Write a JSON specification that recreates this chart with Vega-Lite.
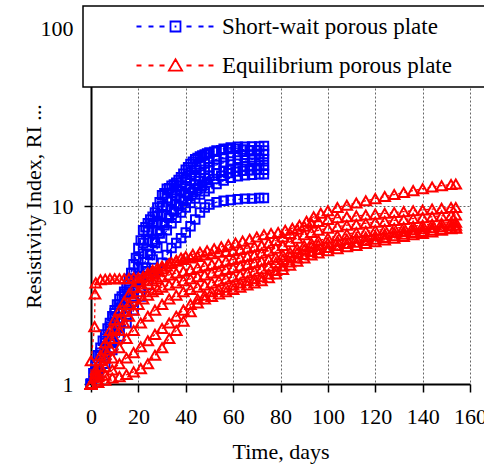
{
  "$schema": "https://vega.github.io/schema/vega-lite/v6.json",
  "width": 379,
  "height": 356,
  "autosize": "none",
  "padding": {"left": 91, "top": 28, "right": 14, "bottom": 91},
  "background": "white",
  "config": {"view": {"stroke": null}, "font": "Liberation Serif"},
  "data": {"values": [
    {"series":"Short-wait porous plate","curve":"B1","day":0,"ri":1},{"series":"Short-wait porous plate","curve":"B1","day":2,"ri":1.3},{"series":"Short-wait porous plate","curve":"B1","day":4,"ri":1.6},{"series":"Short-wait porous plate","curve":"B1","day":6,"ri":1.9},{"series":"Short-wait porous plate","curve":"B1","day":8,"ri":2.2},{"series":"Short-wait porous plate","curve":"B1","day":10,"ri":2.6},{"series":"Short-wait porous plate","curve":"B1","day":12,"ri":3.0},{"series":"Short-wait porous plate","curve":"B1","day":14,"ri":3.3},{"series":"Short-wait porous plate","curve":"B1","day":16,"ri":3.9},{"series":"Short-wait porous plate","curve":"B1","day":18,"ri":4.7},{"series":"Short-wait porous plate","curve":"B1","day":20,"ri":5.8},{"series":"Short-wait porous plate","curve":"B1","day":22,"ri":7.3},{"series":"Short-wait porous plate","curve":"B1","day":24,"ri":8.0},{"series":"Short-wait porous plate","curve":"B1","day":26,"ri":8.7},{"series":"Short-wait porous plate","curve":"B1","day":28,"ri":9.8},{"series":"Short-wait porous plate","curve":"B1","day":30,"ri":11.5},{"series":"Short-wait porous plate","curve":"B1","day":32,"ri":12.5},{"series":"Short-wait porous plate","curve":"B1","day":34,"ri":13},{"series":"Short-wait porous plate","curve":"B1","day":36,"ri":13.5},{"series":"Short-wait porous plate","curve":"B1","day":38,"ri":14.5},{"series":"Short-wait porous plate","curve":"B1","day":40,"ri":16},{"series":"Short-wait porous plate","curve":"B1","day":42,"ri":17.2},{"series":"Short-wait porous plate","curve":"B1","day":44,"ri":18.3},{"series":"Short-wait porous plate","curve":"B1","day":46,"ri":19},{"series":"Short-wait porous plate","curve":"B1","day":48,"ri":19.5},{"series":"Short-wait porous plate","curve":"B1","day":50,"ri":20},{"series":"Short-wait porous plate","curve":"B1","day":53,"ri":20.5},{"series":"Short-wait porous plate","curve":"B1","day":56,"ri":21},{"series":"Short-wait porous plate","curve":"B1","day":59,"ri":21.3},{"series":"Short-wait porous plate","curve":"B1","day":62,"ri":21.5},{"series":"Short-wait porous plate","curve":"B1","day":65,"ri":21.5},{"series":"Short-wait porous plate","curve":"B1","day":68,"ri":21.6},{"series":"Short-wait porous plate","curve":"B1","day":71,"ri":21.6},{"series":"Short-wait porous plate","curve":"B1","day":73,"ri":21.7},
    {"series":"Short-wait porous plate","curve":"B6","day":1,"ri":1.15},{"series":"Short-wait porous plate","curve":"B6","day":3,"ri":1.45},{"series":"Short-wait porous plate","curve":"B6","day":5,"ri":1.75},{"series":"Short-wait porous plate","curve":"B6","day":7,"ri":2.05},{"series":"Short-wait porous plate","curve":"B6","day":9,"ri":2.4},{"series":"Short-wait porous plate","curve":"B6","day":11,"ri":2.8},{"series":"Short-wait porous plate","curve":"B6","day":13,"ri":3.1},{"series":"Short-wait porous plate","curve":"B6","day":15,"ri":3.5},{"series":"Short-wait porous plate","curve":"B6","day":17,"ri":4.2},{"series":"Short-wait porous plate","curve":"B6","day":19,"ri":5.1},{"series":"Short-wait porous plate","curve":"B6","day":21,"ri":6.4},{"series":"Short-wait porous plate","curve":"B6","day":23,"ri":7.6},{"series":"Short-wait porous plate","curve":"B6","day":25,"ri":8.4},{"series":"Short-wait porous plate","curve":"B6","day":27,"ri":9.2},{"series":"Short-wait porous plate","curve":"B6","day":29,"ri":10.5},{"series":"Short-wait porous plate","curve":"B6","day":31,"ri":11.8},{"series":"Short-wait porous plate","curve":"B6","day":33,"ri":12.6},{"series":"Short-wait porous plate","curve":"B6","day":35,"ri":13.2},{"series":"Short-wait porous plate","curve":"B6","day":37,"ri":14},{"series":"Short-wait porous plate","curve":"B6","day":39,"ri":15.2},{"series":"Short-wait porous plate","curve":"B6","day":41,"ri":16.5},{"series":"Short-wait porous plate","curve":"B6","day":43,"ri":17.7},{"series":"Short-wait porous plate","curve":"B6","day":45,"ri":18.6},{"series":"Short-wait porous plate","curve":"B6","day":47,"ri":19.2},{"series":"Short-wait porous plate","curve":"B6","day":49,"ri":19.7},{"series":"Short-wait porous plate","curve":"B6","day":52,"ri":20.2},{"series":"Short-wait porous plate","curve":"B6","day":55,"ri":20.6},{"series":"Short-wait porous plate","curve":"B6","day":58,"ri":20.9},{"series":"Short-wait porous plate","curve":"B6","day":61,"ri":21},{"series":"Short-wait porous plate","curve":"B6","day":64,"ri":20.8},{"series":"Short-wait porous plate","curve":"B6","day":67,"ri":20.6},{"series":"Short-wait porous plate","curve":"B6","day":70,"ri":20.6},{"series":"Short-wait porous plate","curve":"B6","day":73,"ri":20.5},
    {"series":"Short-wait porous plate","curve":"B2","day":0,"ri":1},{"series":"Short-wait porous plate","curve":"B2","day":2,"ri":1.25},{"series":"Short-wait porous plate","curve":"B2","day":4,"ri":1.5},{"series":"Short-wait porous plate","curve":"B2","day":6,"ri":1.8},{"series":"Short-wait porous plate","curve":"B2","day":8,"ri":2.1},{"series":"Short-wait porous plate","curve":"B2","day":10,"ri":2.5},{"series":"Short-wait porous plate","curve":"B2","day":12,"ri":2.8},{"series":"Short-wait porous plate","curve":"B2","day":14,"ri":3.2},{"series":"Short-wait porous plate","curve":"B2","day":16,"ri":3.6},{"series":"Short-wait porous plate","curve":"B2","day":18,"ri":4.2},{"series":"Short-wait porous plate","curve":"B2","day":20,"ri":5.0},{"series":"Short-wait porous plate","curve":"B2","day":22,"ri":6.2},{"series":"Short-wait porous plate","curve":"B2","day":24,"ri":7.2},{"series":"Short-wait porous plate","curve":"B2","day":26,"ri":8.0},{"series":"Short-wait porous plate","curve":"B2","day":28,"ri":8.8},{"series":"Short-wait porous plate","curve":"B2","day":30,"ri":10},{"series":"Short-wait porous plate","curve":"B2","day":32,"ri":11},{"series":"Short-wait porous plate","curve":"B2","day":34,"ri":11.8},{"series":"Short-wait porous plate","curve":"B2","day":36,"ri":12.3},{"series":"Short-wait porous plate","curve":"B2","day":38,"ri":13},{"series":"Short-wait porous plate","curve":"B2","day":40,"ri":14},{"series":"Short-wait porous plate","curve":"B2","day":42,"ri":15},{"series":"Short-wait porous plate","curve":"B2","day":44,"ri":16},{"series":"Short-wait porous plate","curve":"B2","day":46,"ri":16.8},{"series":"Short-wait porous plate","curve":"B2","day":48,"ri":17.3},{"series":"Short-wait porous plate","curve":"B2","day":50,"ri":17.8},{"series":"Short-wait porous plate","curve":"B2","day":53,"ri":18.3},{"series":"Short-wait porous plate","curve":"B2","day":56,"ri":18.8},{"series":"Short-wait porous plate","curve":"B2","day":59,"ri":19.1},{"series":"Short-wait porous plate","curve":"B2","day":62,"ri":19.3},{"series":"Short-wait porous plate","curve":"B2","day":65,"ri":19.4},{"series":"Short-wait porous plate","curve":"B2","day":68,"ri":19.5},{"series":"Short-wait porous plate","curve":"B2","day":71,"ri":19.6},{"series":"Short-wait porous plate","curve":"B2","day":73,"ri":19.6},
    {"series":"Short-wait porous plate","curve":"B7","day":0,"ri":1},{"series":"Short-wait porous plate","curve":"B7","day":2,"ri":1.2},{"series":"Short-wait porous plate","curve":"B7","day":4,"ri":1.45},{"series":"Short-wait porous plate","curve":"B7","day":6,"ri":1.7},{"series":"Short-wait porous plate","curve":"B7","day":8,"ri":2.0},{"series":"Short-wait porous plate","curve":"B7","day":10,"ri":2.35},{"series":"Short-wait porous plate","curve":"B7","day":12,"ri":2.65},{"series":"Short-wait porous plate","curve":"B7","day":14,"ri":3.0},{"series":"Short-wait porous plate","curve":"B7","day":16,"ri":3.4},{"series":"Short-wait porous plate","curve":"B7","day":18,"ri":3.9},{"series":"Short-wait porous plate","curve":"B7","day":20,"ri":4.5},{"series":"Short-wait porous plate","curve":"B7","day":22,"ri":5.4},{"series":"Short-wait porous plate","curve":"B7","day":24,"ri":6.4},{"series":"Short-wait porous plate","curve":"B7","day":26,"ri":7.3},{"series":"Short-wait porous plate","curve":"B7","day":28,"ri":8.1},{"series":"Short-wait porous plate","curve":"B7","day":30,"ri":9.0},{"series":"Short-wait porous plate","curve":"B7","day":32,"ri":9.9},{"series":"Short-wait porous plate","curve":"B7","day":34,"ri":10.7},{"series":"Short-wait porous plate","curve":"B7","day":36,"ri":11.4},{"series":"Short-wait porous plate","curve":"B7","day":38,"ri":12.1},{"series":"Short-wait porous plate","curve":"B7","day":40,"ri":12.9},{"series":"Short-wait porous plate","curve":"B7","day":42,"ri":13.8},{"series":"Short-wait porous plate","curve":"B7","day":44,"ri":14.7},{"series":"Short-wait porous plate","curve":"B7","day":46,"ri":15.4},{"series":"Short-wait porous plate","curve":"B7","day":48,"ri":16},{"series":"Short-wait porous plate","curve":"B7","day":50,"ri":16.5},{"series":"Short-wait porous plate","curve":"B7","day":53,"ri":17},{"series":"Short-wait porous plate","curve":"B7","day":56,"ri":17.5},{"series":"Short-wait porous plate","curve":"B7","day":59,"ri":17.8},{"series":"Short-wait porous plate","curve":"B7","day":62,"ri":18},{"series":"Short-wait porous plate","curve":"B7","day":65,"ri":18.1},{"series":"Short-wait porous plate","curve":"B7","day":68,"ri":18.2},{"series":"Short-wait porous plate","curve":"B7","day":71,"ri":18.2},{"series":"Short-wait porous plate","curve":"B7","day":73,"ri":18.3},
    {"series":"Short-wait porous plate","curve":"B3","day":0,"ri":1},{"series":"Short-wait porous plate","curve":"B3","day":3,"ri":1.2},{"series":"Short-wait porous plate","curve":"B3","day":6,"ri":1.5},{"series":"Short-wait porous plate","curve":"B3","day":9,"ri":1.8},{"series":"Short-wait porous plate","curve":"B3","day":12,"ri":2.2},{"series":"Short-wait porous plate","curve":"B3","day":15,"ri":2.7},{"series":"Short-wait porous plate","curve":"B3","day":18,"ri":3.3},{"series":"Short-wait porous plate","curve":"B3","day":20,"ri":3.8},{"series":"Short-wait porous plate","curve":"B3","day":22,"ri":4.5},{"series":"Short-wait porous plate","curve":"B3","day":24,"ri":5.4},{"series":"Short-wait porous plate","curve":"B3","day":26,"ri":6.3},{"series":"Short-wait porous plate","curve":"B3","day":28,"ri":7.2},{"series":"Short-wait porous plate","curve":"B3","day":30,"ri":8.0},{"series":"Short-wait porous plate","curve":"B3","day":32,"ri":8.8},{"series":"Short-wait porous plate","curve":"B3","day":34,"ri":9.5},{"series":"Short-wait porous plate","curve":"B3","day":36,"ri":10.2},{"series":"Short-wait porous plate","curve":"B3","day":38,"ri":11},{"series":"Short-wait porous plate","curve":"B3","day":40,"ri":11.8},{"series":"Short-wait porous plate","curve":"B3","day":42,"ri":12.5},{"series":"Short-wait porous plate","curve":"B3","day":44,"ri":13.2},{"series":"Short-wait porous plate","curve":"B3","day":46,"ri":13.8},{"series":"Short-wait porous plate","curve":"B3","day":48,"ri":14.3},{"series":"Short-wait porous plate","curve":"B3","day":50,"ri":14.8},{"series":"Short-wait porous plate","curve":"B3","day":53,"ri":15.3},{"series":"Short-wait porous plate","curve":"B3","day":56,"ri":15.8},{"series":"Short-wait porous plate","curve":"B3","day":59,"ri":16.2},{"series":"Short-wait porous plate","curve":"B3","day":62,"ri":16.5},{"series":"Short-wait porous plate","curve":"B3","day":65,"ri":16.7},{"series":"Short-wait porous plate","curve":"B3","day":68,"ri":16.8},{"series":"Short-wait porous plate","curve":"B3","day":71,"ri":16.9},{"series":"Short-wait porous plate","curve":"B3","day":73,"ri":17},
    {"series":"Short-wait porous plate","curve":"B8","day":0,"ri":1},{"series":"Short-wait porous plate","curve":"B8","day":3,"ri":1.2},{"series":"Short-wait porous plate","curve":"B8","day":6,"ri":1.45},{"series":"Short-wait porous plate","curve":"B8","day":9,"ri":1.75},{"series":"Short-wait porous plate","curve":"B8","day":12,"ri":2.1},{"series":"Short-wait porous plate","curve":"B8","day":15,"ri":2.55},{"series":"Short-wait porous plate","curve":"B8","day":18,"ri":3.1},{"series":"Short-wait porous plate","curve":"B8","day":21,"ri":3.8},{"series":"Short-wait porous plate","curve":"B8","day":23,"ri":4.5},{"series":"Short-wait porous plate","curve":"B8","day":25,"ri":5.3},{"series":"Short-wait porous plate","curve":"B8","day":27,"ri":6.2},{"series":"Short-wait porous plate","curve":"B8","day":29,"ri":7.0},{"series":"Short-wait porous plate","curve":"B8","day":31,"ri":7.8},{"series":"Short-wait porous plate","curve":"B8","day":33,"ri":8.6},{"series":"Short-wait porous plate","curve":"B8","day":35,"ri":9.3},{"series":"Short-wait porous plate","curve":"B8","day":37,"ri":10},{"series":"Short-wait porous plate","curve":"B8","day":39,"ri":10.7},{"series":"Short-wait porous plate","curve":"B8","day":41,"ri":11.4},{"series":"Short-wait porous plate","curve":"B8","day":43,"ri":12},{"series":"Short-wait porous plate","curve":"B8","day":45,"ri":12.6},{"series":"Short-wait porous plate","curve":"B8","day":47,"ri":13.1},{"series":"Short-wait porous plate","curve":"B8","day":49,"ri":13.6},{"series":"Short-wait porous plate","curve":"B8","day":52,"ri":14.2},{"series":"Short-wait porous plate","curve":"B8","day":55,"ri":14.8},{"series":"Short-wait porous plate","curve":"B8","day":58,"ri":15.3},{"series":"Short-wait porous plate","curve":"B8","day":61,"ri":15.6},{"series":"Short-wait porous plate","curve":"B8","day":64,"ri":15.8},{"series":"Short-wait porous plate","curve":"B8","day":67,"ri":15.9},{"series":"Short-wait porous plate","curve":"B8","day":70,"ri":16},{"series":"Short-wait porous plate","curve":"B8","day":73,"ri":16},
    {"series":"Short-wait porous plate","curve":"B4","day":0,"ri":1},{"series":"Short-wait porous plate","curve":"B4","day":3,"ri":1.15},{"series":"Short-wait porous plate","curve":"B4","day":6,"ri":1.4},{"series":"Short-wait porous plate","curve":"B4","day":9,"ri":1.7},{"series":"Short-wait porous plate","curve":"B4","day":12,"ri":2.0},{"series":"Short-wait porous plate","curve":"B4","day":15,"ri":2.4},{"series":"Short-wait porous plate","curve":"B4","day":18,"ri":2.9},{"series":"Short-wait porous plate","curve":"B4","day":21,"ri":3.5},{"series":"Short-wait porous plate","curve":"B4","day":24,"ri":4.3},{"series":"Short-wait porous plate","curve":"B4","day":26,"ri":5.0},{"series":"Short-wait porous plate","curve":"B4","day":28,"ri":5.8},{"series":"Short-wait porous plate","curve":"B4","day":30,"ri":6.6},{"series":"Short-wait porous plate","curve":"B4","day":32,"ri":7.3},{"series":"Short-wait porous plate","curve":"B4","day":34,"ri":8.0},{"series":"Short-wait porous plate","curve":"B4","day":36,"ri":8.6},{"series":"Short-wait porous plate","curve":"B4","day":38,"ri":9.2},{"series":"Short-wait porous plate","curve":"B4","day":40,"ri":9.8},{"series":"Short-wait porous plate","curve":"B4","day":42,"ri":10.4},{"series":"Short-wait porous plate","curve":"B4","day":44,"ri":11},{"series":"Short-wait porous plate","curve":"B4","day":46,"ri":11.6},{"series":"Short-wait porous plate","curve":"B4","day":48,"ri":12.1},{"series":"Short-wait porous plate","curve":"B4","day":50,"ri":12.6},{"series":"Short-wait porous plate","curve":"B4","day":53,"ri":13.3},{"series":"Short-wait porous plate","curve":"B4","day":56,"ri":13.9},{"series":"Short-wait porous plate","curve":"B4","day":59,"ri":14.4},{"series":"Short-wait porous plate","curve":"B4","day":62,"ri":14.7},{"series":"Short-wait porous plate","curve":"B4","day":65,"ri":14.9},{"series":"Short-wait porous plate","curve":"B4","day":68,"ri":15},{"series":"Short-wait porous plate","curve":"B4","day":71,"ri":15.1},{"series":"Short-wait porous plate","curve":"B4","day":73,"ri":15.1},
    {"series":"Short-wait porous plate","curve":"B5","day":0,"ri":1},{"series":"Short-wait porous plate","curve":"B5","day":3,"ri":1.1},{"series":"Short-wait porous plate","curve":"B5","day":6,"ri":1.3},{"series":"Short-wait porous plate","curve":"B5","day":9,"ri":1.55},{"series":"Short-wait porous plate","curve":"B5","day":12,"ri":1.85},{"series":"Short-wait porous plate","curve":"B5","day":15,"ri":2.2},{"series":"Short-wait porous plate","curve":"B5","day":18,"ri":2.6},{"series":"Short-wait porous plate","curve":"B5","day":21,"ri":3.1},{"series":"Short-wait porous plate","curve":"B5","day":24,"ri":3.6},{"series":"Short-wait porous plate","curve":"B5","day":27,"ri":4.2},{"series":"Short-wait porous plate","curve":"B5","day":30,"ri":4.8},{"series":"Short-wait porous plate","curve":"B5","day":32,"ri":5.3},{"series":"Short-wait porous plate","curve":"B5","day":34,"ri":5.8},{"series":"Short-wait porous plate","curve":"B5","day":36,"ri":6.2},{"series":"Short-wait porous plate","curve":"B5","day":38,"ri":6.6},{"series":"Short-wait porous plate","curve":"B5","day":40,"ri":7.1},{"series":"Short-wait porous plate","curve":"B5","day":42,"ri":7.7},{"series":"Short-wait porous plate","curve":"B5","day":44,"ri":8.4},{"series":"Short-wait porous plate","curve":"B5","day":46,"ri":9.2},{"series":"Short-wait porous plate","curve":"B5","day":48,"ri":9.8},{"series":"Short-wait porous plate","curve":"B5","day":50,"ri":10.2},{"series":"Short-wait porous plate","curve":"B5","day":53,"ri":10.5},{"series":"Short-wait porous plate","curve":"B5","day":56,"ri":10.7},{"series":"Short-wait porous plate","curve":"B5","day":59,"ri":10.8},{"series":"Short-wait porous plate","curve":"B5","day":62,"ri":10.9},{"series":"Short-wait porous plate","curve":"B5","day":65,"ri":11},{"series":"Short-wait porous plate","curve":"B5","day":68,"ri":11},{"series":"Short-wait porous plate","curve":"B5","day":71,"ri":11.1},{"series":"Short-wait porous plate","curve":"B5","day":73,"ri":11.1},
    {"series":"Equilibrium porous plate","curve":"R1","day":0,"ri":1},{"series":"Equilibrium porous plate","curve":"R1","day":0,"ri":1.35},{"series":"Equilibrium porous plate","curve":"R1","day":1.5,"ri":2.1},{"series":"Equilibrium porous plate","curve":"R1","day":1.7,"ri":3.2},{"series":"Equilibrium porous plate","curve":"R1","day":2,"ri":3.7},{"series":"Equilibrium porous plate","curve":"R1","day":4,"ri":3.85},{"series":"Equilibrium porous plate","curve":"R1","day":6,"ri":3.88},{"series":"Equilibrium porous plate","curve":"R1","day":8,"ri":3.9},{"series":"Equilibrium porous plate","curve":"R1","day":10,"ri":3.9},{"series":"Equilibrium porous plate","curve":"R1","day":12,"ri":3.9},{"series":"Equilibrium porous plate","curve":"R1","day":14,"ri":3.9},{"series":"Equilibrium porous plate","curve":"R1","day":16,"ri":3.92},{"series":"Equilibrium porous plate","curve":"R1","day":18,"ri":3.95},{"series":"Equilibrium porous plate","curve":"R1","day":20,"ri":3.95},{"series":"Equilibrium porous plate","curve":"R1","day":22,"ri":4.0},{"series":"Equilibrium porous plate","curve":"R1","day":24,"ri":4.05},{"series":"Equilibrium porous plate","curve":"R1","day":26,"ri":4.15},{"series":"Equilibrium porous plate","curve":"R1","day":28,"ri":4.3},{"series":"Equilibrium porous plate","curve":"R1","day":30,"ri":4.45},{"series":"Equilibrium porous plate","curve":"R1","day":32,"ri":4.6},{"series":"Equilibrium porous plate","curve":"R1","day":34,"ri":4.8},{"series":"Equilibrium porous plate","curve":"R1","day":36,"ri":4.95},{"series":"Equilibrium porous plate","curve":"R1","day":38,"ri":5.1},{"series":"Equilibrium porous plate","curve":"R1","day":40,"ri":5.2},{"series":"Equilibrium porous plate","curve":"R1","day":43,"ri":5.35},{"series":"Equilibrium porous plate","curve":"R1","day":46,"ri":5.5},{"series":"Equilibrium porous plate","curve":"R1","day":49,"ri":5.6},{"series":"Equilibrium porous plate","curve":"R1","day":52,"ri":5.75},{"series":"Equilibrium porous plate","curve":"R1","day":55,"ri":5.9},{"series":"Equilibrium porous plate","curve":"R1","day":58,"ri":6.05},{"series":"Equilibrium porous plate","curve":"R1","day":61,"ri":6.2},{"series":"Equilibrium porous plate","curve":"R1","day":64,"ri":6.35},{"series":"Equilibrium porous plate","curve":"R1","day":67,"ri":6.5},{"series":"Equilibrium porous plate","curve":"R1","day":70,"ri":6.7},{"series":"Equilibrium porous plate","curve":"R1","day":73,"ri":6.9},{"series":"Equilibrium porous plate","curve":"R1","day":76,"ri":7.0},{"series":"Equilibrium porous plate","curve":"R1","day":79,"ri":7.1},{"series":"Equilibrium porous plate","curve":"R1","day":82,"ri":7.3},{"series":"Equilibrium porous plate","curve":"R1","day":85,"ri":7.5},{"series":"Equilibrium porous plate","curve":"R1","day":88,"ri":7.8},{"series":"Equilibrium porous plate","curve":"R1","day":91,"ri":8.2},{"series":"Equilibrium porous plate","curve":"R1","day":94,"ri":8.7},{"series":"Equilibrium porous plate","curve":"R1","day":97,"ri":9.1},{"series":"Equilibrium porous plate","curve":"R1","day":100,"ri":9.4},{"series":"Equilibrium porous plate","curve":"R1","day":104,"ri":9.8},{"series":"Equilibrium porous plate","curve":"R1","day":108,"ri":10.1},{"series":"Equilibrium porous plate","curve":"R1","day":112,"ri":10.4},{"series":"Equilibrium porous plate","curve":"R1","day":116,"ri":10.7},{"series":"Equilibrium porous plate","curve":"R1","day":120,"ri":11.0},{"series":"Equilibrium porous plate","curve":"R1","day":124,"ri":11.3},{"series":"Equilibrium porous plate","curve":"R1","day":128,"ri":11.6},{"series":"Equilibrium porous plate","curve":"R1","day":132,"ri":11.9},{"series":"Equilibrium porous plate","curve":"R1","day":136,"ri":12.2},{"series":"Equilibrium porous plate","curve":"R1","day":140,"ri":12.5},{"series":"Equilibrium porous plate","curve":"R1","day":144,"ri":12.8},{"series":"Equilibrium porous plate","curve":"R1","day":148,"ri":13.0},{"series":"Equilibrium porous plate","curve":"R1","day":152,"ri":13.2},{"series":"Equilibrium porous plate","curve":"R1","day":154,"ri":13.3},
    {"series":"Equilibrium porous plate","curve":"R2","day":0,"ri":1},{"series":"Equilibrium porous plate","curve":"R2","day":2,"ri":1.2},{"series":"Equilibrium porous plate","curve":"R2","day":4,"ri":1.45},{"series":"Equilibrium porous plate","curve":"R2","day":6,"ri":1.7},{"series":"Equilibrium porous plate","curve":"R2","day":8,"ri":2.0},{"series":"Equilibrium porous plate","curve":"R2","day":10,"ri":2.3},{"series":"Equilibrium porous plate","curve":"R2","day":12,"ri":2.6},{"series":"Equilibrium porous plate","curve":"R2","day":14,"ri":2.9},{"series":"Equilibrium porous plate","curve":"R2","day":16,"ri":3.2},{"series":"Equilibrium porous plate","curve":"R2","day":18,"ri":3.5},{"series":"Equilibrium porous plate","curve":"R2","day":20,"ri":3.75},{"series":"Equilibrium porous plate","curve":"R2","day":22,"ri":4.0},{"series":"Equilibrium porous plate","curve":"R2","day":24,"ri":4.2},{"series":"Equilibrium porous plate","curve":"R2","day":26,"ri":4.35},{"series":"Equilibrium porous plate","curve":"R2","day":28,"ri":4.5},{"series":"Equilibrium porous plate","curve":"R2","day":30,"ri":4.6},{"series":"Equilibrium porous plate","curve":"R2","day":33,"ri":4.75},{"series":"Equilibrium porous plate","curve":"R2","day":36,"ri":4.9},{"series":"Equilibrium porous plate","curve":"R2","day":39,"ri":5.0},{"series":"Equilibrium porous plate","curve":"R2","day":42,"ri":5.1},{"series":"Equilibrium porous plate","curve":"R2","day":45,"ri":5.2},{"series":"Equilibrium porous plate","curve":"R2","day":48,"ri":5.3},{"series":"Equilibrium porous plate","curve":"R2","day":51,"ri":5.4},{"series":"Equilibrium porous plate","curve":"R2","day":54,"ri":5.5},{"series":"Equilibrium porous plate","curve":"R2","day":57,"ri":5.55},{"series":"Equilibrium porous plate","curve":"R2","day":60,"ri":5.6},{"series":"Equilibrium porous plate","curve":"R2","day":63,"ri":5.7},{"series":"Equilibrium porous plate","curve":"R2","day":66,"ri":5.8},{"series":"Equilibrium porous plate","curve":"R2","day":69,"ri":5.9},{"series":"Equilibrium porous plate","curve":"R2","day":72,"ri":6.0},{"series":"Equilibrium porous plate","curve":"R2","day":75,"ri":6.2},{"series":"Equilibrium porous plate","curve":"R2","day":78,"ri":6.4},{"series":"Equilibrium porous plate","curve":"R2","day":81,"ri":6.7},{"series":"Equilibrium porous plate","curve":"R2","day":84,"ri":7.0},{"series":"Equilibrium porous plate","curve":"R2","day":87,"ri":7.4},{"series":"Equilibrium porous plate","curve":"R2","day":90,"ri":7.7},{"series":"Equilibrium porous plate","curve":"R2","day":93,"ri":8.0},{"series":"Equilibrium porous plate","curve":"R2","day":96,"ri":8.2},{"series":"Equilibrium porous plate","curve":"R2","day":100,"ri":8.4},{"series":"Equilibrium porous plate","curve":"R2","day":104,"ri":8.6},{"series":"Equilibrium porous plate","curve":"R2","day":108,"ri":8.7},{"series":"Equilibrium porous plate","curve":"R2","day":112,"ri":8.8},{"series":"Equilibrium porous plate","curve":"R2","day":116,"ri":8.9},{"series":"Equilibrium porous plate","curve":"R2","day":120,"ri":9.0},{"series":"Equilibrium porous plate","curve":"R2","day":124,"ri":9.1},{"series":"Equilibrium porous plate","curve":"R2","day":128,"ri":9.2},{"series":"Equilibrium porous plate","curve":"R2","day":132,"ri":9.3},{"series":"Equilibrium porous plate","curve":"R2","day":136,"ri":9.4},{"series":"Equilibrium porous plate","curve":"R2","day":140,"ri":9.5},{"series":"Equilibrium porous plate","curve":"R2","day":144,"ri":9.6},{"series":"Equilibrium porous plate","curve":"R2","day":148,"ri":9.7},{"series":"Equilibrium porous plate","curve":"R2","day":152,"ri":9.8},{"series":"Equilibrium porous plate","curve":"R2","day":154,"ri":9.8},
    {"series":"Equilibrium porous plate","curve":"R3","day":0,"ri":1},{"series":"Equilibrium porous plate","curve":"R3","day":2,"ri":1.15},{"series":"Equilibrium porous plate","curve":"R3","day":4,"ri":1.35},{"series":"Equilibrium porous plate","curve":"R3","day":6,"ri":1.55},{"series":"Equilibrium porous plate","curve":"R3","day":8,"ri":1.8},{"series":"Equilibrium porous plate","curve":"R3","day":10,"ri":2.05},{"series":"Equilibrium porous plate","curve":"R3","day":12,"ri":2.3},{"series":"Equilibrium porous plate","curve":"R3","day":14,"ri":2.55},{"series":"Equilibrium porous plate","curve":"R3","day":16,"ri":2.8},{"series":"Equilibrium porous plate","curve":"R3","day":18,"ri":3.05},{"series":"Equilibrium porous plate","curve":"R3","day":20,"ri":3.3},{"series":"Equilibrium porous plate","curve":"R3","day":22,"ri":3.5},{"series":"Equilibrium porous plate","curve":"R3","day":24,"ri":3.65},{"series":"Equilibrium porous plate","curve":"R3","day":26,"ri":3.8},{"series":"Equilibrium porous plate","curve":"R3","day":28,"ri":3.9},{"series":"Equilibrium porous plate","curve":"R3","day":30,"ri":4.0},{"series":"Equilibrium porous plate","curve":"R3","day":33,"ri":4.1},{"series":"Equilibrium porous plate","curve":"R3","day":36,"ri":4.2},{"series":"Equilibrium porous plate","curve":"R3","day":39,"ri":4.3},{"series":"Equilibrium porous plate","curve":"R3","day":42,"ri":4.4},{"series":"Equilibrium porous plate","curve":"R3","day":45,"ri":4.5},{"series":"Equilibrium porous plate","curve":"R3","day":48,"ri":4.6},{"series":"Equilibrium porous plate","curve":"R3","day":51,"ri":4.7},{"series":"Equilibrium porous plate","curve":"R3","day":54,"ri":4.8},{"series":"Equilibrium porous plate","curve":"R3","day":57,"ri":4.9},{"series":"Equilibrium porous plate","curve":"R3","day":60,"ri":5.0},{"series":"Equilibrium porous plate","curve":"R3","day":63,"ri":5.1},{"series":"Equilibrium porous plate","curve":"R3","day":66,"ri":5.2},{"series":"Equilibrium porous plate","curve":"R3","day":69,"ri":5.3},{"series":"Equilibrium porous plate","curve":"R3","day":72,"ri":5.45},{"series":"Equilibrium porous plate","curve":"R3","day":75,"ri":5.6},{"series":"Equilibrium porous plate","curve":"R3","day":78,"ri":5.8},{"series":"Equilibrium porous plate","curve":"R3","day":81,"ri":6.0},{"series":"Equilibrium porous plate","curve":"R3","day":84,"ri":6.3},{"series":"Equilibrium porous plate","curve":"R3","day":87,"ri":6.6},{"series":"Equilibrium porous plate","curve":"R3","day":90,"ri":6.9},{"series":"Equilibrium porous plate","curve":"R3","day":93,"ri":7.1},{"series":"Equilibrium porous plate","curve":"R3","day":96,"ri":7.3},{"series":"Equilibrium porous plate","curve":"R3","day":100,"ri":7.5},{"series":"Equilibrium porous plate","curve":"R3","day":104,"ri":7.65},{"series":"Equilibrium porous plate","curve":"R3","day":108,"ri":7.8},{"series":"Equilibrium porous plate","curve":"R3","day":112,"ri":7.9},{"series":"Equilibrium porous plate","curve":"R3","day":116,"ri":8.0},{"series":"Equilibrium porous plate","curve":"R3","day":120,"ri":8.1},{"series":"Equilibrium porous plate","curve":"R3","day":124,"ri":8.2},{"series":"Equilibrium porous plate","curve":"R3","day":128,"ri":8.3},{"series":"Equilibrium porous plate","curve":"R3","day":132,"ri":8.4},{"series":"Equilibrium porous plate","curve":"R3","day":136,"ri":8.5},{"series":"Equilibrium porous plate","curve":"R3","day":140,"ri":8.6},{"series":"Equilibrium porous plate","curve":"R3","day":144,"ri":8.7},{"series":"Equilibrium porous plate","curve":"R3","day":148,"ri":8.8},{"series":"Equilibrium porous plate","curve":"R3","day":152,"ri":8.85},{"series":"Equilibrium porous plate","curve":"R3","day":154,"ri":8.9},
    {"series":"Equilibrium porous plate","curve":"R4","day":0,"ri":1},{"series":"Equilibrium porous plate","curve":"R4","day":2,"ri":1.1},{"series":"Equilibrium porous plate","curve":"R4","day":4,"ri":1.25},{"series":"Equilibrium porous plate","curve":"R4","day":6,"ri":1.4},{"series":"Equilibrium porous plate","curve":"R4","day":8,"ri":1.6},{"series":"Equilibrium porous plate","curve":"R4","day":10,"ri":1.8},{"series":"Equilibrium porous plate","curve":"R4","day":12,"ri":2.0},{"series":"Equilibrium porous plate","curve":"R4","day":14,"ri":2.2},{"series":"Equilibrium porous plate","curve":"R4","day":16,"ri":2.4},{"series":"Equilibrium porous plate","curve":"R4","day":18,"ri":2.6},{"series":"Equilibrium porous plate","curve":"R4","day":20,"ri":2.8},{"series":"Equilibrium porous plate","curve":"R4","day":22,"ri":3.0},{"series":"Equilibrium porous plate","curve":"R4","day":24,"ri":3.15},{"series":"Equilibrium porous plate","curve":"R4","day":26,"ri":3.3},{"series":"Equilibrium porous plate","curve":"R4","day":28,"ri":3.4},{"series":"Equilibrium porous plate","curve":"R4","day":30,"ri":3.5},{"series":"Equilibrium porous plate","curve":"R4","day":33,"ri":3.6},{"series":"Equilibrium porous plate","curve":"R4","day":36,"ri":3.7},{"series":"Equilibrium porous plate","curve":"R4","day":39,"ri":3.8},{"series":"Equilibrium porous plate","curve":"R4","day":42,"ri":3.9},{"series":"Equilibrium porous plate","curve":"R4","day":45,"ri":4.0},{"series":"Equilibrium porous plate","curve":"R4","day":48,"ri":4.1},{"series":"Equilibrium porous plate","curve":"R4","day":51,"ri":4.2},{"series":"Equilibrium porous plate","curve":"R4","day":54,"ri":4.3},{"series":"Equilibrium porous plate","curve":"R4","day":57,"ri":4.4},{"series":"Equilibrium porous plate","curve":"R4","day":60,"ri":4.5},{"series":"Equilibrium porous plate","curve":"R4","day":63,"ri":4.6},{"series":"Equilibrium porous plate","curve":"R4","day":66,"ri":4.7},{"series":"Equilibrium porous plate","curve":"R4","day":69,"ri":4.8},{"series":"Equilibrium porous plate","curve":"R4","day":72,"ri":4.9},{"series":"Equilibrium porous plate","curve":"R4","day":75,"ri":5.0},{"series":"Equilibrium porous plate","curve":"R4","day":78,"ri":5.15},{"series":"Equilibrium porous plate","curve":"R4","day":81,"ri":5.3},{"series":"Equilibrium porous plate","curve":"R4","day":84,"ri":5.5},{"series":"Equilibrium porous plate","curve":"R4","day":87,"ri":5.75},{"series":"Equilibrium porous plate","curve":"R4","day":90,"ri":6.0},{"series":"Equilibrium porous plate","curve":"R4","day":93,"ri":6.2},{"series":"Equilibrium porous plate","curve":"R4","day":96,"ri":6.4},{"series":"Equilibrium porous plate","curve":"R4","day":100,"ri":6.6},{"series":"Equilibrium porous plate","curve":"R4","day":104,"ri":6.8},{"series":"Equilibrium porous plate","curve":"R4","day":108,"ri":6.95},{"series":"Equilibrium porous plate","curve":"R4","day":112,"ri":7.1},{"series":"Equilibrium porous plate","curve":"R4","day":116,"ri":7.2},{"series":"Equilibrium porous plate","curve":"R4","day":120,"ri":7.3},{"series":"Equilibrium porous plate","curve":"R4","day":124,"ri":7.4},{"series":"Equilibrium porous plate","curve":"R4","day":128,"ri":7.5},{"series":"Equilibrium porous plate","curve":"R4","day":132,"ri":7.6},{"series":"Equilibrium porous plate","curve":"R4","day":136,"ri":7.7},{"series":"Equilibrium porous plate","curve":"R4","day":140,"ri":7.8},{"series":"Equilibrium porous plate","curve":"R4","day":144,"ri":7.9},{"series":"Equilibrium porous plate","curve":"R4","day":148,"ri":8.0},{"series":"Equilibrium porous plate","curve":"R4","day":152,"ri":8.1},{"series":"Equilibrium porous plate","curve":"R4","day":154,"ri":8.1},
    {"series":"Equilibrium porous plate","curve":"R6","day":0,"ri":1},{"series":"Equilibrium porous plate","curve":"R6","day":3,"ri":1.1},{"series":"Equilibrium porous plate","curve":"R6","day":6,"ri":1.25},{"series":"Equilibrium porous plate","curve":"R6","day":9,"ri":1.4},{"series":"Equilibrium porous plate","curve":"R6","day":12,"ri":1.6},{"series":"Equilibrium porous plate","curve":"R6","day":15,"ri":1.8},{"series":"Equilibrium porous plate","curve":"R6","day":18,"ri":2.0},{"series":"Equilibrium porous plate","curve":"R6","day":21,"ri":2.2},{"series":"Equilibrium porous plate","curve":"R6","day":24,"ri":2.4},{"series":"Equilibrium porous plate","curve":"R6","day":27,"ri":2.6},{"series":"Equilibrium porous plate","curve":"R6","day":30,"ri":2.8},{"series":"Equilibrium porous plate","curve":"R6","day":33,"ri":3.0},{"series":"Equilibrium porous plate","curve":"R6","day":36,"ri":3.15},{"series":"Equilibrium porous plate","curve":"R6","day":39,"ri":3.3},{"series":"Equilibrium porous plate","curve":"R6","day":42,"ri":3.4},{"series":"Equilibrium porous plate","curve":"R6","day":45,"ri":3.5},{"series":"Equilibrium porous plate","curve":"R6","day":48,"ri":3.6},{"series":"Equilibrium porous plate","curve":"R6","day":51,"ri":3.7},{"series":"Equilibrium porous plate","curve":"R6","day":54,"ri":3.8},{"series":"Equilibrium porous plate","curve":"R6","day":57,"ri":3.9},{"series":"Equilibrium porous plate","curve":"R6","day":60,"ri":4.0},{"series":"Equilibrium porous plate","curve":"R6","day":63,"ri":4.1},{"series":"Equilibrium porous plate","curve":"R6","day":66,"ri":4.2},{"series":"Equilibrium porous plate","curve":"R6","day":69,"ri":4.3},{"series":"Equilibrium porous plate","curve":"R6","day":72,"ri":4.45},{"series":"Equilibrium porous plate","curve":"R6","day":75,"ri":4.6},{"series":"Equilibrium porous plate","curve":"R6","day":78,"ri":4.8},{"series":"Equilibrium porous plate","curve":"R6","day":81,"ri":5.0},{"series":"Equilibrium porous plate","curve":"R6","day":84,"ri":5.2},{"series":"Equilibrium porous plate","curve":"R6","day":87,"ri":5.45},{"series":"Equilibrium porous plate","curve":"R6","day":90,"ri":5.7},{"series":"Equilibrium porous plate","curve":"R6","day":93,"ri":5.9},{"series":"Equilibrium porous plate","curve":"R6","day":96,"ri":6.05},{"series":"Equilibrium porous plate","curve":"R6","day":100,"ri":6.2},{"series":"Equilibrium porous plate","curve":"R6","day":104,"ri":6.35},{"series":"Equilibrium porous plate","curve":"R6","day":108,"ri":6.5},{"series":"Equilibrium porous plate","curve":"R6","day":112,"ri":6.6},{"series":"Equilibrium porous plate","curve":"R6","day":116,"ri":6.7},{"series":"Equilibrium porous plate","curve":"R6","day":120,"ri":6.8},{"series":"Equilibrium porous plate","curve":"R6","day":124,"ri":6.95},{"series":"Equilibrium porous plate","curve":"R6","day":128,"ri":7.1},{"series":"Equilibrium porous plate","curve":"R6","day":132,"ri":7.2},{"series":"Equilibrium porous plate","curve":"R6","day":136,"ri":7.35},{"series":"Equilibrium porous plate","curve":"R6","day":140,"ri":7.45},{"series":"Equilibrium porous plate","curve":"R6","day":144,"ri":7.55},{"series":"Equilibrium porous plate","curve":"R6","day":148,"ri":7.65},{"series":"Equilibrium porous plate","curve":"R6","day":152,"ri":7.75},{"series":"Equilibrium porous plate","curve":"R6","day":154,"ri":7.8},
    {"series":"Equilibrium porous plate","curve":"R7","day":0,"ri":1},{"series":"Equilibrium porous plate","curve":"R7","day":3,"ri":1.05},{"series":"Equilibrium porous plate","curve":"R7","day":6,"ri":1.12},{"series":"Equilibrium porous plate","curve":"R7","day":9,"ri":1.2},{"series":"Equilibrium porous plate","curve":"R7","day":12,"ri":1.3},{"series":"Equilibrium porous plate","curve":"R7","day":15,"ri":1.4},{"series":"Equilibrium porous plate","curve":"R7","day":18,"ri":1.5},{"series":"Equilibrium porous plate","curve":"R7","day":21,"ri":1.62},{"series":"Equilibrium porous plate","curve":"R7","day":24,"ri":1.75},{"series":"Equilibrium porous plate","curve":"R7","day":27,"ri":1.9},{"series":"Equilibrium porous plate","curve":"R7","day":30,"ri":2.05},{"series":"Equilibrium porous plate","curve":"R7","day":33,"ri":2.2},{"series":"Equilibrium porous plate","curve":"R7","day":36,"ri":2.4},{"series":"Equilibrium porous plate","curve":"R7","day":39,"ri":2.6},{"series":"Equilibrium porous plate","curve":"R7","day":42,"ri":2.8},{"series":"Equilibrium porous plate","curve":"R7","day":45,"ri":3.0},{"series":"Equilibrium porous plate","curve":"R7","day":48,"ri":3.15},{"series":"Equilibrium porous plate","curve":"R7","day":51,"ri":3.3},{"series":"Equilibrium porous plate","curve":"R7","day":54,"ri":3.4},{"series":"Equilibrium porous plate","curve":"R7","day":57,"ri":3.5},{"series":"Equilibrium porous plate","curve":"R7","day":60,"ri":3.6},{"series":"Equilibrium porous plate","curve":"R7","day":63,"ri":3.7},{"series":"Equilibrium porous plate","curve":"R7","day":66,"ri":3.8},{"series":"Equilibrium porous plate","curve":"R7","day":69,"ri":3.9},{"series":"Equilibrium porous plate","curve":"R7","day":72,"ri":4.0},{"series":"Equilibrium porous plate","curve":"R7","day":75,"ri":4.15},{"series":"Equilibrium porous plate","curve":"R7","day":78,"ri":4.35},{"series":"Equilibrium porous plate","curve":"R7","day":81,"ri":4.6},{"series":"Equilibrium porous plate","curve":"R7","day":84,"ri":4.85},{"series":"Equilibrium porous plate","curve":"R7","day":87,"ri":5.1},{"series":"Equilibrium porous plate","curve":"R7","day":90,"ri":5.35},{"series":"Equilibrium porous plate","curve":"R7","day":93,"ri":5.55},{"series":"Equilibrium porous plate","curve":"R7","day":96,"ri":5.7},{"series":"Equilibrium porous plate","curve":"R7","day":100,"ri":5.85},{"series":"Equilibrium porous plate","curve":"R7","day":104,"ri":6.0},{"series":"Equilibrium porous plate","curve":"R7","day":108,"ri":6.15},{"series":"Equilibrium porous plate","curve":"R7","day":112,"ri":6.25},{"series":"Equilibrium porous plate","curve":"R7","day":116,"ri":6.4},{"series":"Equilibrium porous plate","curve":"R7","day":120,"ri":6.5},{"series":"Equilibrium porous plate","curve":"R7","day":124,"ri":6.65},{"series":"Equilibrium porous plate","curve":"R7","day":128,"ri":6.8},{"series":"Equilibrium porous plate","curve":"R7","day":132,"ri":6.95},{"series":"Equilibrium porous plate","curve":"R7","day":136,"ri":7.1},{"series":"Equilibrium porous plate","curve":"R7","day":140,"ri":7.2},{"series":"Equilibrium porous plate","curve":"R7","day":144,"ri":7.3},{"series":"Equilibrium porous plate","curve":"R7","day":148,"ri":7.4},{"series":"Equilibrium porous plate","curve":"R7","day":152,"ri":7.5},{"series":"Equilibrium porous plate","curve":"R7","day":154,"ri":7.55},
    {"series":"Equilibrium porous plate","curve":"R5","day":0,"ri":1},{"series":"Equilibrium porous plate","curve":"R5","day":3,"ri":1.02},{"series":"Equilibrium porous plate","curve":"R5","day":6,"ri":1.05},{"series":"Equilibrium porous plate","curve":"R5","day":9,"ri":1.08},{"series":"Equilibrium porous plate","curve":"R5","day":12,"ri":1.1},{"series":"Equilibrium porous plate","curve":"R5","day":15,"ri":1.13},{"series":"Equilibrium porous plate","curve":"R5","day":18,"ri":1.17},{"series":"Equilibrium porous plate","curve":"R5","day":21,"ri":1.22},{"series":"Equilibrium porous plate","curve":"R5","day":24,"ri":1.3},{"series":"Equilibrium porous plate","curve":"R5","day":27,"ri":1.45},{"series":"Equilibrium porous plate","curve":"R5","day":30,"ri":1.6},{"series":"Equilibrium porous plate","curve":"R5","day":33,"ri":1.8},{"series":"Equilibrium porous plate","curve":"R5","day":36,"ri":2.0},{"series":"Equilibrium porous plate","curve":"R5","day":39,"ri":2.25},{"series":"Equilibrium porous plate","curve":"R5","day":42,"ri":2.55},{"series":"Equilibrium porous plate","curve":"R5","day":45,"ri":2.85},{"series":"Equilibrium porous plate","curve":"R5","day":48,"ri":3.0},{"series":"Equilibrium porous plate","curve":"R5","day":51,"ri":3.1},{"series":"Equilibrium porous plate","curve":"R5","day":54,"ri":3.2},{"series":"Equilibrium porous plate","curve":"R5","day":57,"ri":3.3},{"series":"Equilibrium porous plate","curve":"R5","day":60,"ri":3.4},{"series":"Equilibrium porous plate","curve":"R5","day":63,"ri":3.5},{"series":"Equilibrium porous plate","curve":"R5","day":66,"ri":3.6},{"series":"Equilibrium porous plate","curve":"R5","day":69,"ri":3.7},{"series":"Equilibrium porous plate","curve":"R5","day":72,"ri":3.8},{"series":"Equilibrium porous plate","curve":"R5","day":75,"ri":3.95},{"series":"Equilibrium porous plate","curve":"R5","day":78,"ri":4.15},{"series":"Equilibrium porous plate","curve":"R5","day":81,"ri":4.4},{"series":"Equilibrium porous plate","curve":"R5","day":84,"ri":4.65},{"series":"Equilibrium porous plate","curve":"R5","day":87,"ri":4.9},{"series":"Equilibrium porous plate","curve":"R5","day":90,"ri":5.1},{"series":"Equilibrium porous plate","curve":"R5","day":93,"ri":5.3},{"series":"Equilibrium porous plate","curve":"R5","day":96,"ri":5.45},{"series":"Equilibrium porous plate","curve":"R5","day":100,"ri":5.6},{"series":"Equilibrium porous plate","curve":"R5","day":104,"ri":5.75},{"series":"Equilibrium porous plate","curve":"R5","day":108,"ri":5.9},{"series":"Equilibrium porous plate","curve":"R5","day":112,"ri":6.0},{"series":"Equilibrium porous plate","curve":"R5","day":116,"ri":6.15},{"series":"Equilibrium porous plate","curve":"R5","day":120,"ri":6.3},{"series":"Equilibrium porous plate","curve":"R5","day":124,"ri":6.45},{"series":"Equilibrium porous plate","curve":"R5","day":128,"ri":6.6},{"series":"Equilibrium porous plate","curve":"R5","day":132,"ri":6.75},{"series":"Equilibrium porous plate","curve":"R5","day":136,"ri":6.9},{"series":"Equilibrium porous plate","curve":"R5","day":140,"ri":7.0},{"series":"Equilibrium porous plate","curve":"R5","day":144,"ri":7.15},{"series":"Equilibrium porous plate","curve":"R5","day":148,"ri":7.3},{"series":"Equilibrium porous plate","curve":"R5","day":152,"ri":7.45},{"series":"Equilibrium porous plate","curve":"R5","day":154,"ri":7.5}
  ]},
  "encoding": {
    "x": {"field": "day", "type": "quantitative",
      "scale": {"domain": [0, 160], "nice": false, "zero": false},
      "axis": {"values": [0, 20, 40, 60, 80, 100, 120, 140, 160], "title": "Time, days",
        "grid": true, "gridColor": "#666666", "gridDash": [2, 2], "gridWidth": 1,
        "domainColor": "black", "domainWidth": 2, "tickColor": "black", "tickWidth": 1.5, "tickSize": 8,
        "labelPadding": 14, "labelFont": "Liberation Serif", "labelFontSize": 22, "labelColor": "black",
        "labelFlush": false, "labelOverlap": false,
        "titleFont": "Liberation Serif", "titleFontSize": 22, "titleFontWeight": "normal", "titleColor": "black", "titlePadding": 14}},
    "y": {"field": "ri", "type": "quantitative",
      "scale": {"type": "log", "domain": [1, 100], "nice": false},
      "axis": {"values": [1, 10, 100], "format": "d", "title": "Resistivity Index, RI ...",
        "grid": true, "gridColor": "#666666", "gridDash": [2, 2], "gridWidth": 1,
        "domainColor": "black", "domainWidth": 2, "tickColor": "black", "tickWidth": 1.5, "tickSize": 7,
        "labelPadding": 11, "labelFont": "Liberation Serif", "labelFontSize": 22, "labelColor": "black",
        "labelFlush": false, "labelOverlap": false,
        "titleFont": "Liberation Serif", "titleFontSize": 22, "titleFontWeight": "normal", "titleColor": "black", "titlePadding": -5}},
    "color": {"field": "series", "type": "nominal",
      "scale": {"domain": ["Short-wait porous plate", "Equilibrium porous plate"], "range": ["#0000ff", "#ff0000"]},
      "legend": {"orient": "none", "legendX": -8, "legendY": -22, "title": null,
         "strokeColor": "black", "fillColor": "white", "padding": 9,
         "labelFont": "Liberation Serif", "labelFontSize": 23, "labelColor": "black", "labelOffset": 35, "labelLimit": 800,
         "symbolSize": 144, "symbolOffset": 72, "rowPadding": 15, "symbolType": "square",
         "labelExpr": "datum.label + '\u2800\u2800\u2800\u2800\u2800\u2800'",
         "encode": {
           "legend": {"update": {"strokeWidth": {"value": 1.5}}},
           "labels": {"update": {"fontSize": {"value": 23}, "font": {"value": "Liberation Serif"}}},
           "symbols": {"update": {
           "shape": {"signal": "datum.value === 'Short-wait porous plate' ? 'M-6.5,0H-5.67M-4.5,0H-3.67M-2.67,0H-1.83M1.83,0H2.67M3.83,0H4.67M5.5,0H6.33M-0.83,-0.83H0.83V0.83H-0.83ZM-0.15,0H0.15' : 'M-6.5,0H-5.67M-4.5,0H-3.67M-2.67,0H-1.83M1.83,0H2.67M3.83,0H4.67M5.5,0H6.33M0,-1.05L1.1,0.85H-1.1Z'"},
           "stroke": {"signal": "datum.value === 'Short-wait porous plate' ? '#0000ff' : '#ff0000'"},
           "fill": {"value": "transparent"},
           "strokeWidth": {"value": 1.8},
           "opacity": {"value": 1}}}}}},
    "detail": {"field": "curve", "type": "nominal"}
  },
  "layer": [
    {"transform": [{"filter": "datum.series === 'Short-wait porous plate'"}],
     "mark": {"type": "line", "strokeDash": [3, 3], "strokeWidth": 1.3}},
    {"transform": [{"filter": "datum.series === 'Short-wait porous plate'"}],
     "mark": {"type": "point", "filled": false, "shape": "square", "size": 72, "strokeWidth": 2, "opacity": 1}},
    {"transform": [{"filter": "datum.series === 'Equilibrium porous plate'"}],
     "mark": {"type": "line", "strokeDash": [3, 3], "strokeWidth": 1.3}},
    {"transform": [{"filter": "datum.series === 'Equilibrium porous plate'"}],
     "mark": {"type": "point", "filled": false, "shape": "triangle-up", "size": 110, "strokeWidth": 2, "opacity": 1}}
  ]
}
